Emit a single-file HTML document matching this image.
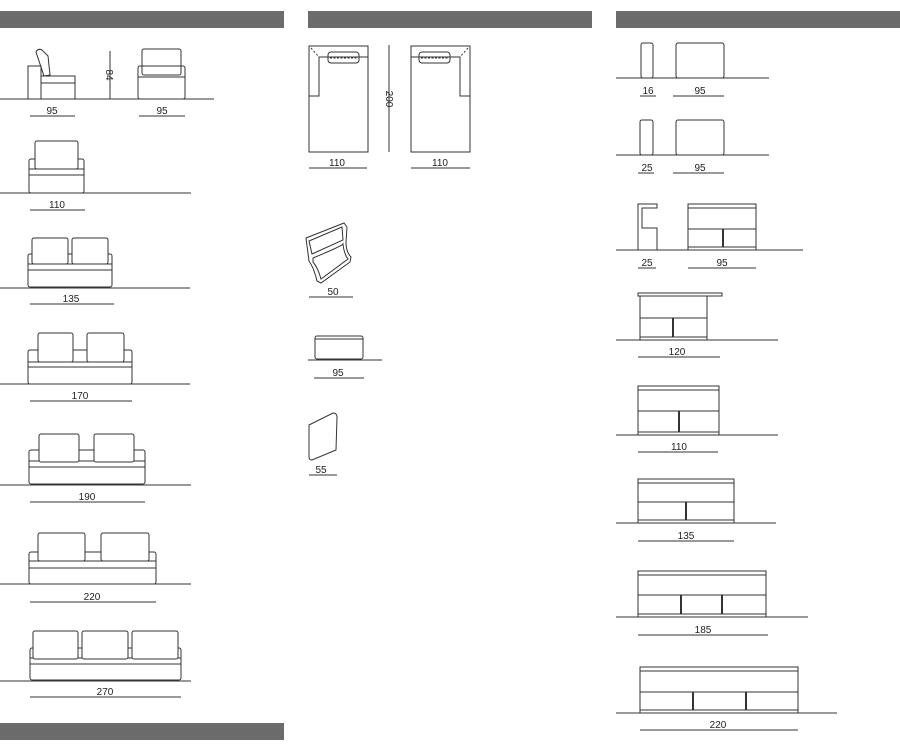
<!DOCTYPE html>
<html><head><meta charset="utf-8"><style>
html,body{margin:0;padding:0;background:#fff;}
svg{display:block;}
text{font-family:"Liberation Sans",sans-serif;font-size:10px;fill:#222;text-anchor:middle;}
</style></head><body>
<svg width="900" height="747" viewBox="0 0 900 747" xmlns="http://www.w3.org/2000/svg">
<g fill="#6b6b6b">
<rect x="0" y="11" width="284" height="17"/>
<rect x="308" y="11" width="284" height="17"/>
<rect x="616" y="11" width="284" height="17"/>
<rect x="0" y="723" width="284" height="17"/>
</g>
<g stroke="#333" stroke-width="1" fill="none">
<!-- LEFT COLUMN -->
<line x1="0" y1="99" x2="214" y2="99"/>
<rect x="28" y="66" width="13" height="33"/>
<rect x="41" y="76" width="34" height="23"/>
<line x1="41" y1="83" x2="75" y2="83"/>
<path d="M36 52 Q38 48 42 50 L48 56 L50 75 L44 76 Z"/>
<line x1="110" y1="51" x2="110" y2="99"/>
<rect x="138" y="66" width="47" height="33" rx="2"/>
<line x1="138" y1="77" x2="185" y2="77"/>
<rect x="142" y="49" width="39" height="26" rx="2"/>
<line x1="30" y1="116" x2="75" y2="116"/><line x1="139" y1="116" x2="185" y2="116"/>
<line x1="0" y1="193" x2="191" y2="193"/>
<rect x="29" y="159" width="55" height="34" rx="2"/>
<line x1="29" y1="169" x2="84" y2="169"/><line x1="29" y1="175" x2="84" y2="175"/>
<rect x="35" y="141" width="43" height="28" rx="2" fill="#fff"/>
<line x1="30" y1="210" x2="85" y2="210"/>
<line x1="0" y1="288" x2="190" y2="288"/>
<rect x="28" y="254" width="84" height="33" rx="2"/>
<line x1="28" y1="264" x2="112" y2="264"/><line x1="28" y1="270" x2="112" y2="270"/>
<rect x="32" y="238" width="36" height="26" rx="2" fill="#fff"/>
<rect x="72" y="238" width="36" height="26" rx="2" fill="#fff"/>
<line x1="30" y1="304" x2="114" y2="304"/>
<line x1="0" y1="384" x2="190" y2="384"/>
<rect x="28" y="350" width="104" height="34" rx="2"/>
<line x1="28" y1="362" x2="132" y2="362"/><line x1="28" y1="367" x2="132" y2="367"/>
<rect x="38" y="333" width="35" height="29" rx="2" fill="#fff"/>
<rect x="87" y="333" width="37" height="29" rx="2" fill="#fff"/>
<line x1="30" y1="401" x2="132" y2="401"/>
<line x1="0" y1="485" x2="191" y2="485"/>
<rect x="29" y="450" width="116" height="34" rx="2"/>
<line x1="29" y1="461" x2="145" y2="461"/><line x1="29" y1="467" x2="145" y2="467"/>
<rect x="39" y="434" width="40" height="28" rx="2" fill="#fff"/>
<rect x="94" y="434" width="40" height="28" rx="2" fill="#fff"/>
<line x1="30" y1="502" x2="145" y2="502"/>
<line x1="0" y1="584" x2="191" y2="584"/>
<rect x="29" y="552" width="127" height="32" rx="2"/>
<line x1="29" y1="561" x2="156" y2="561"/><line x1="29" y1="568" x2="156" y2="568"/>
<rect x="38" y="533" width="47" height="28" rx="2" fill="#fff"/>
<rect x="101" y="533" width="48" height="28" rx="2" fill="#fff"/>
<line x1="30" y1="602" x2="156" y2="602"/>
<line x1="0" y1="681" x2="191" y2="681"/>
<rect x="30" y="648" width="151" height="32" rx="2"/>
<line x1="30" y1="658" x2="181" y2="658"/><line x1="30" y1="664" x2="181" y2="664"/>
<rect x="33" y="631" width="45" height="28" rx="2" fill="#fff"/>
<rect x="82" y="631" width="46" height="28" rx="2" fill="#fff"/>
<rect x="132" y="631" width="46" height="28" rx="2" fill="#fff"/>
<line x1="30" y1="697" x2="181" y2="697"/>

<!-- MIDDLE -->
<rect x="309" y="46" width="59" height="106"/>
<path d="M309 96 L319 96 L319 57 L368 57"/>
<line x1="311" y1="48" x2="319" y2="57" stroke-dasharray="2,2"/>
<rect x="328" y="52" width="31" height="11" rx="3"/>
<line x1="330" y1="58" x2="357" y2="58" stroke-dasharray="2,1.5"/>
<rect x="411" y="46" width="59" height="106"/>
<path d="M470 96 L460 96 L460 57 L411 57"/>
<line x1="468" y1="48" x2="460" y2="57" stroke-dasharray="2,2"/>
<rect x="419" y="52" width="31" height="11" rx="3"/>
<line x1="421" y1="58" x2="448" y2="58" stroke-dasharray="2,1.5"/>
<line x1="389" y1="45" x2="389" y2="152"/>
<line x1="309" y1="168" x2="367" y2="168"/><line x1="411" y1="168" x2="470" y2="168"/>
<path d="M306 238 L344 223 L347 227 L346 242 Q346 252 351 257 L350 262 L321 283 L317 281 Q314 268 309 261 Z"/>
<path d="M309 241 L342 227 L343 240 L312 254 Z"/>
<path d="M313 258 Q342 246 343 244 Q344 254 348 259 L321 279 Q318 268 313 262 Z"/>
<line x1="309" y1="297" x2="353" y2="297"/>
<rect x="315" y="336" width="48" height="23" rx="2"/>
<line x1="315" y1="339" x2="363" y2="339"/>
<line x1="308" y1="360" x2="382" y2="360"/>
<line x1="314" y1="378" x2="364" y2="378"/>
<path d="M309 425 L333 413 Q337 413 337 417 L336 450 L312 460 Q309 460 309 457 Z"/>
<line x1="309" y1="475" x2="337" y2="475"/>

<!-- RIGHT -->
<line x1="616" y1="78" x2="769" y2="78"/>
<rect x="641" y="43" width="12" height="35" rx="2"/>
<rect x="676" y="43" width="48" height="35" rx="2"/>
<line x1="640" y1="96" x2="656" y2="96"/><line x1="673" y1="96" x2="724" y2="96"/>
<line x1="616" y1="155" x2="769" y2="155"/>
<rect x="640" y="120" width="13" height="35" rx="2"/>
<rect x="676" y="120" width="48" height="35" rx="2"/>
<line x1="638" y1="173" x2="654" y2="173"/><line x1="673" y1="173" x2="724" y2="173"/>
<line x1="616" y1="250" x2="803" y2="250"/>
<path d="M638 250 L638 204 L657 204 L657 208 L642 208 L642 228 L657 228 L657 250"/>
<rect x="688" y="204" width="68" height="46"/>
<line x1="688" y1="208" x2="756" y2="208"/><line x1="688" y1="229" x2="756" y2="229"/><line x1="688" y1="247" x2="756" y2="247"/>
<line x1="723" y1="229" x2="723" y2="247" stroke-width="2"/>
<line x1="638" y1="268" x2="656" y2="268"/><line x1="688" y1="268" x2="756" y2="268"/>
<line x1="616" y1="340" x2="778" y2="340"/>
<rect x="638" y="293" width="84" height="3"/>
<rect x="640" y="296" width="67" height="44"/>
<line x1="640" y1="318" x2="707" y2="318"/><line x1="640" y1="337" x2="707" y2="337"/>
<line x1="673" y1="318" x2="673" y2="337" stroke-width="2"/>
<line x1="638" y1="357" x2="720" y2="357"/>
<line x1="616" y1="435" x2="778" y2="435"/>
<rect x="638" y="386" width="81" height="49"/>
<line x1="638" y1="390" x2="719" y2="390"/><line x1="638" y1="411" x2="719" y2="411"/><line x1="638" y1="432" x2="719" y2="432"/>
<line x1="679" y1="411" x2="679" y2="432" stroke-width="2"/>
<line x1="638" y1="452" x2="718" y2="452"/>
<line x1="616" y1="523" x2="776" y2="523"/>
<rect x="638" y="479" width="96" height="44"/>
<line x1="638" y1="483" x2="734" y2="483"/><line x1="638" y1="502" x2="734" y2="502"/><line x1="638" y1="520" x2="734" y2="520"/>
<line x1="686" y1="502" x2="686" y2="520" stroke-width="2"/>
<line x1="638" y1="541" x2="734" y2="541"/>
<line x1="616" y1="617" x2="808" y2="617"/>
<rect x="638" y="571" width="128" height="46"/>
<line x1="638" y1="575" x2="766" y2="575"/><line x1="638" y1="595" x2="766" y2="595"/><line x1="638" y1="614" x2="766" y2="614"/>
<line x1="681" y1="595" x2="681" y2="614" stroke-width="2"/><line x1="722" y1="595" x2="722" y2="614" stroke-width="2"/>
<line x1="638" y1="635" x2="768" y2="635"/>
<line x1="616" y1="713" x2="837" y2="713"/>
<rect x="640" y="667" width="158" height="46"/>
<line x1="640" y1="671" x2="798" y2="671"/><line x1="640" y1="692" x2="798" y2="692"/><line x1="640" y1="710" x2="798" y2="710"/>
<line x1="693" y1="692" x2="693" y2="710" stroke-width="2"/><line x1="746" y1="692" x2="746" y2="710" stroke-width="2"/>
<line x1="640" y1="730" x2="798" y2="730"/>
</g>
<g>
<text x="52" y="114">95</text><text x="162" y="114">95</text>
<text x="106" y="75" transform="rotate(90 106 75)">84</text>
<text x="57" y="208">110</text>
<text x="71" y="302">135</text>
<text x="80" y="399">170</text>
<text x="87" y="500">190</text>
<text x="92" y="600">220</text>
<text x="105" y="695">270</text>
<text x="337" y="166">110</text><text x="440" y="166">110</text>
<text x="386" y="99" transform="rotate(90 386 99)">200</text>
<text x="333" y="295">50</text>
<text x="338" y="376">95</text>
<text x="321" y="473">55</text>
<text x="648" y="94">16</text><text x="700" y="94">95</text>
<text x="647" y="171">25</text><text x="700" y="171">95</text>
<text x="647" y="266">25</text><text x="722" y="266">95</text>
<text x="677" y="355">120</text>
<text x="679" y="450">110</text>
<text x="686" y="539">135</text>
<text x="703" y="633">185</text>
<text x="718" y="728">220</text>
</g>
</svg>
</body></html>
